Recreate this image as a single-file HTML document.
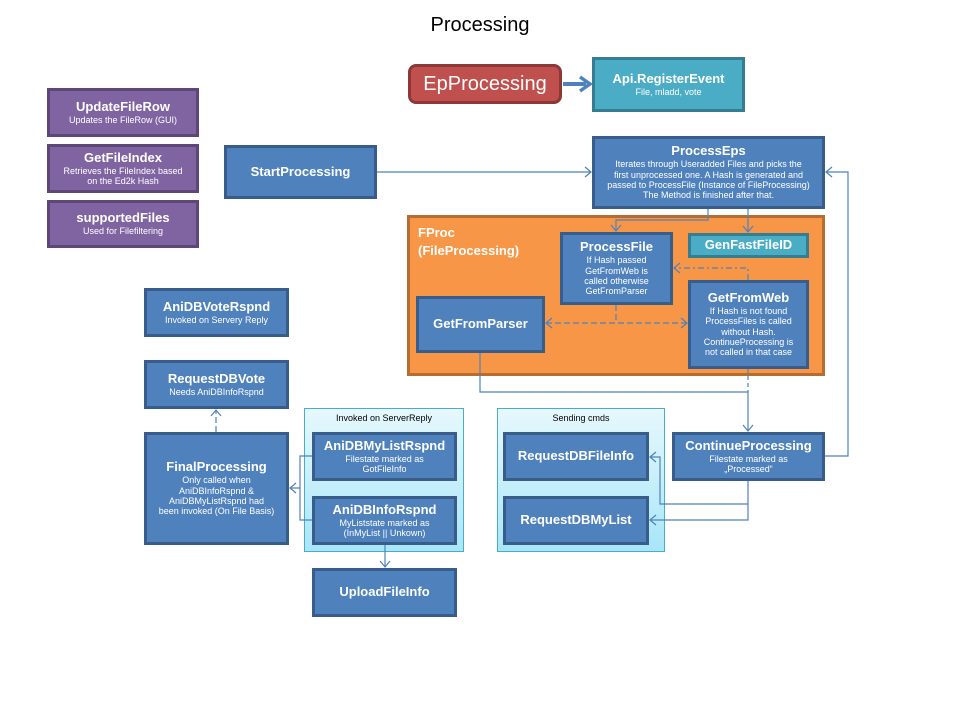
<!DOCTYPE html>
<html><head><meta charset="utf-8"><style>
body{margin:0;width:960px;height:720px;background:#fff;position:relative;overflow:hidden;font-family:"Liberation Sans",sans-serif;}
.b{position:absolute;box-sizing:border-box;background:#4f81bd;border:3px solid #385d8a;color:#fff;text-align:center;display:flex;flex-direction:column;justify-content:center;align-items:center;line-height:1.15;}
.t{font-size:13px;font-weight:600;}
.s{font-size:9px;}
.p{background:#8064a2;border-color:#5c4776;}
.g{position:absolute;box-sizing:border-box;border:1.5px solid #4bacc6;background:linear-gradient(#e6f8fd,#a8e6f8);font-size:9px;text-align:center;color:#000;padding-top:4px;}
svg{position:absolute;left:0;top:0;}
</style></head><body>
<div style="position:absolute;left:0;width:960px;top:14px;text-align:center;font-size:20px;">Processing</div>

<div class="b" style="left:408px;top:64px;width:154px;height:40px;background:#c0504d;border-color:#8c3836;border-radius:8px;"><span style="font-size:20px;">EpProcessing</span></div>
<div class="b" style="left:592px;top:57px;width:153px;height:55px;background:#4bacc6;border-color:#357d91;"><span class="t">Api.RegisterEvent</span><span class="s">File, mladd, vote</span></div>

<div class="b p" style="left:47px;top:88px;width:152px;height:49px;"><span class="t">UpdateFileRow</span><span class="s">Updates the FileRow (GUI)</span></div>
<div class="b p" style="left:47px;top:144px;width:152px;height:49px;"><span class="t">GetFileIndex</span><span class="s">Retrieves the FileIndex based<br>on the Ed2k Hash</span></div>
<div class="b p" style="left:47px;top:200px;width:152px;height:48px;"><span class="t">supportedFiles</span><span class="s">Used for Filefiltering</span></div>

<div class="b" style="left:224px;top:145px;width:153px;height:54px;"><span class="t">StartProcessing</span></div>
<div class="b" style="left:592px;top:136px;width:233px;height:73px;"><span class="t">ProcessEps</span><span class="s">Iterates through Useradded Files and picks the<br>first unprocessed one. A Hash is generated and<br>passed to ProcessFile (Instance of FileProcessing)<br>The Method is finished after that.</span></div>

<div style="position:absolute;left:407px;top:215px;width:418px;height:161px;box-sizing:border-box;background:#f79646;border:3px solid #b66d31;"></div>
<div style="position:absolute;left:418px;top:224px;color:#fff;font-size:13px;font-weight:600;line-height:1.35;">FProc<br>(FileProcessing)</div>

<div class="b" style="left:560px;top:232px;width:113px;height:73px;"><span class="t">ProcessFile</span><span class="s">If Hash passed<br>GetFromWeb is<br>called otherwise<br>GetFromParser</span></div>
<div class="b" style="left:688px;top:233px;width:121px;height:25px;background:#4bacc6;border-color:#357d91;"><span class="t">GenFastFileID</span></div>
<div class="b" style="left:416px;top:296px;width:129px;height:57px;"><span class="t">GetFromParser</span></div>
<div class="b" style="left:688px;top:280px;width:121px;height:89px;"><span class="t">GetFromWeb</span><span class="s">If Hash is not found<br>ProcessFiles is called<br>without Hash.<br>ContinueProcessing is<br>not called in that case</span></div>

<div class="b" style="left:144px;top:288px;width:145px;height:49px;"><span class="t">AniDBVoteRspnd</span><span class="s">Invoked on Servery Reply</span></div>
<div class="b" style="left:144px;top:360px;width:145px;height:49px;"><span class="t">RequestDBVote</span><span class="s">Needs AniDBInfoRspnd</span></div>
<div class="b" style="left:144px;top:432px;width:145px;height:113px;"><span class="t">FinalProcessing</span><span class="s">Only called when<br>AniDBInfoRspnd &amp;<br>AniDBMyListRspnd had<br>been invoked (On File Basis)</span></div>

<div class="g" style="left:304px;top:408px;width:160px;height:144px;">Invoked on ServerReply</div>
<div class="b" style="left:312px;top:432px;width:145px;height:49px;"><span class="t">AniDBMyListRspnd</span><span class="s">Filestate marked as<br>GotFileInfo</span></div>
<div class="b" style="left:312px;top:496px;width:145px;height:49px;"><span class="t">AniDBInfoRspnd</span><span class="s">MyListstate marked as<br>(InMyList || Unkown)</span></div>
<div class="b" style="left:312px;top:568px;width:145px;height:49px;"><span class="t">UploadFileInfo</span></div>

<div class="g" style="left:497px;top:408px;width:168px;height:144px;">Sending cmds</div>
<div class="b" style="left:503px;top:432px;width:146px;height:49px;"><span class="t">RequestDBFileInfo</span></div>
<div class="b" style="left:503px;top:496px;width:146px;height:49px;"><span class="t">RequestDBMyList</span></div>
<div class="b" style="left:672px;top:432px;width:153px;height:49px;"><span class="t">ContinueProcessing</span><span class="s">Filestate marked as<br>„Processed“</span></div>

<svg width="960" height="720" fill="none" stroke="#4f81bd" stroke-width="1.2">
<path d="M563 84 H586" stroke-width="4"/><path d="M580 77 L590 84 L580 91" stroke-width="3.5"/>
<path d="M377 172 H591"/><path d="M585 167 L591 172 L585 177"/>
<path d="M708 209 V220 H616 V231"/><path d="M611 225 L616 231 L621 225"/>
<path d="M748 209 V232"/><path d="M743 226 L748 232 L753 226"/>
<path d="M748 280 V268 H674" stroke-dasharray="6,3,2,3"/><path d="M680 263 L674 268 L680 273"/>
<path d="M616 305 V323 M546 323 H687" stroke-dasharray="6,3"/><path d="M552 318 L546 323 L552 328 M681 318 L687 323 L681 328"/>
<path d="M480 353 V392 H748 V431"/><path d="M748 369 V392" stroke-dasharray="4,3"/><path d="M743 425 L748 431 L753 425"/>
<path d="M825 456 H848 V172 H826"/><path d="M832 167 L826 172 L832 177"/>
<path d="M748 481 V504 H660 V457 H650 M748 504 V520 H650"/><path d="M656 452 L650 457 L656 462 M656 515 L650 520 L656 525"/>
<path d="M312 456 H300 V520 H312 M300 488 H290"/><path d="M296 483 L290 488 L296 493"/>
<path d="M385 545 V567"/><path d="M380 561 L385 567 L390 561"/>
<path d="M216 432 V410" stroke-dasharray="6,3"/><path d="M211 416 L216 410 L221 416"/>
</svg>
</body></html>
